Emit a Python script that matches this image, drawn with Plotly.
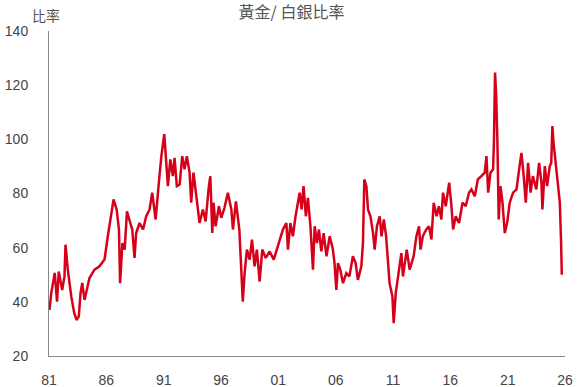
import plotly.graph_objects as go

# Gold / silver ratio (decimal years)
years = [
    1981.04, 1981.2, 1981.5, 1981.7, 1981.85, 1982.15, 1982.35, 1982.44, 1982.64, 1982.94,
    1983.2, 1983.4, 1983.6, 1983.75, 1983.9, 1984.1, 1984.53, 1984.97, 1985.4, 1985.84,
    1986.13, 1986.34, 1986.63, 1986.9, 1987.1, 1987.2, 1987.4, 1987.6, 1987.8, 1988.0,
    1988.26, 1988.46, 1988.6, 1988.9, 1989.2, 1989.48, 1989.77, 1990.0, 1990.3, 1990.58,
    1990.8, 1991.05, 1991.23, 1991.37, 1991.58, 1991.8, 1991.95, 1992.15, 1992.39, 1992.62,
    1992.82, 1993.02, 1993.26, 1993.4, 1993.6, 1993.85, 1994.13, 1994.42, 1994.66, 1994.94,
    1995.07, 1995.24, 1995.35, 1995.53, 1995.82, 1996.02, 1996.3, 1996.6, 1996.9, 1997.04,
    1997.3, 1997.6, 1997.77, 1997.9, 1998.06, 1998.26, 1998.5, 1998.7, 1998.93, 1999.13,
    1999.37, 1999.6, 1999.9, 2000.24, 2000.6, 2000.96, 2001.4, 2001.7, 2001.84, 2002.05,
    2002.27, 2002.5, 2002.86, 2003.03, 2003.2, 2003.4, 2003.58, 2003.8, 2004.02, 2004.17,
    2004.37, 2004.54, 2004.75, 2004.95, 2005.2, 2005.48, 2005.76, 2005.9, 2006.06, 2006.2,
    2006.4, 2006.64, 2006.93, 2007.2, 2007.5, 2007.74, 2007.94, 2008.24, 2008.38, 2008.5,
    2008.68, 2008.82, 2009.03, 2009.26, 2009.4, 2009.6, 2009.84, 2010.0, 2010.2, 2010.4,
    2010.7, 2010.95, 2011.06, 2011.24, 2011.44, 2011.73, 2011.87, 2012.2, 2012.45, 2012.8,
    2013.04, 2013.27, 2013.4, 2013.6, 2013.9, 2014.14, 2014.35, 2014.55, 2014.8, 2015.0,
    2015.22, 2015.36, 2015.6, 2015.9, 2016.1, 2016.24, 2016.47, 2016.76, 2017.06, 2017.34,
    2017.63, 2017.84, 2018.13, 2018.4, 2018.7, 2019.0, 2019.15, 2019.3, 2019.5, 2019.73,
    2019.8, 2019.9, 2020.0, 2020.1, 2020.22, 2020.37, 2020.55, 2020.75, 2020.95, 2021.18,
    2021.47, 2021.77, 2022.0, 2022.2, 2022.4, 2022.58, 2022.78, 2023.0, 2023.2, 2023.5,
    2023.74, 2023.95, 2024.03, 2024.24, 2024.44, 2024.67, 2024.8, 2024.9, 2025.0, 2025.2,
    2025.4, 2025.55, 2025.66, 2025.72,
]
ratio = [
    37.0, 43.3, 50.7, 40.1, 51.2, 44.4, 49.4, 61.1, 51.9, 42.0,
    35.9, 33.3, 34.6, 43.2, 47.0, 40.7, 48.8, 51.9, 53.1, 55.6,
    64.2, 70.4, 77.8, 74.1, 66.7, 46.9, 61.7, 59.3, 73.4, 70.4,
    66.7, 56.2, 65.4, 69.1, 66.7, 71.6, 74.1, 80.3, 70.4, 84.0,
    93.8, 101.9, 88.9, 82.7, 92.6, 86.4, 93.2, 82.7, 83.3, 93.8,
    88.9, 93.8, 87.7, 76.6, 87.7, 79.0, 69.1, 74.1, 69.7, 82.7,
    86.4, 65.4, 76.6, 67.9, 75.3, 71.0, 74.7, 80.3, 74.1, 66.7,
    77.1, 66.7, 54.3, 40.1, 50.6, 59.3, 55.6, 63.0, 53.1, 59.3,
    47.5, 59.3, 56.2, 58.6, 55.6, 60.5, 66.7, 69.1, 59.3, 69.1,
    64.2, 71.6, 80.3, 74.1, 82.7, 71.6, 78.4, 67.9, 51.9, 67.9,
    61.7, 66.7, 58.6, 65.4, 56.8, 64.2, 59.3, 54.3, 44.4, 54.3,
    51.9, 46.9, 50.6, 49.4, 56.8, 54.3, 48.1, 53.1, 61.7, 85.2,
    82.7, 74.1, 71.6, 65.4, 59.3, 67.9, 71.6, 64.2, 70.4, 64.2,
    46.9, 42.0, 32.1, 43.2, 49.4, 58.0, 49.4, 59.3, 51.9, 56.8,
    64.2, 67.9, 59.3, 64.2, 66.7, 67.9, 63.0, 76.6, 71.6, 75.3,
    70.4, 80.3, 75.3, 84.0, 75.3, 66.7, 71.6, 69.1, 76.6, 75.3,
    80.3, 81.5, 79.0, 85.2, 86.4, 87.7, 93.8, 80.3, 87.7, 88.9,
    98.8, 124.7, 116.0, 100.0, 70.4, 82.7, 76.6, 65.4, 69.1, 76.6,
    80.3, 81.5, 88.9, 95.0, 86.4, 76.6, 91.3, 80.3, 86.4, 81.5,
    91.3, 84.0, 74.1, 90.1, 82.7, 90.1, 91.3, 104.9, 98.8, 90.1,
    84.0, 76.6, 61.7, 50.0,
]

tick_vals = [1981, 1986, 1991, 1996, 2001, 2006, 2011, 2016, 2021, 2026]
tick_text = ["81", "86", "91", "96", "01", "06", "11", "16", "21", "26"]
y_ticks = [20, 40, 60, 80, 100, 120, 140]

title_text = "黃金/ 白銀比率"
y_label = "比率"

fig = go.Figure()
fig.add_trace(go.Scatter(
    x=years, y=ratio, mode="lines",
    line=dict(color="#d7001a", width=2.5),
    hoverinfo="skip", showlegend=False,
))

axis_font = dict(family="Liberation Sans, Arial, sans-serif", size=14, color="#444444")

fig.update_layout(
    width=583, height=387,
    margin=dict(l=49, r=18, t=31, b=31, autoexpand=False),
    paper_bgcolor="white", plot_bgcolor="white",
    title=dict(text=title_text, x=0.5, xref="container", xanchor="center",
               y=1 - 12 / 387, yref="container", yanchor="middle",
               font=dict(family="Noto Sans CJK TC, sans-serif", size=16, color="#555555")),
    xaxis=dict(range=[1981, 2026], tickvals=tick_vals, ticktext=tick_text,
               showgrid=False, zeroline=False, showline=True, linecolor="#888888",
               linewidth=1, ticks="", ticklabelstandoff=11, tickfont=axis_font,
               automargin=False),
    yaxis=dict(range=[20, 140], tickvals=y_ticks, showgrid=False, zeroline=False,
               showline=True, linecolor="#888888", linewidth=1, ticks="",
               ticklabelstandoff=17, tickfont=axis_font, automargin=False),
    annotations=[dict(text=y_label, xref="paper", yref="paper", x=0, y=1,
                      xanchor="center", yanchor="bottom", xshift=-3, yshift=4,
                      showarrow=False,
                      font=dict(family="Noto Sans CJK TC, sans-serif", size=14, color="#555555"))],
)

fig.write_html("out.html")
